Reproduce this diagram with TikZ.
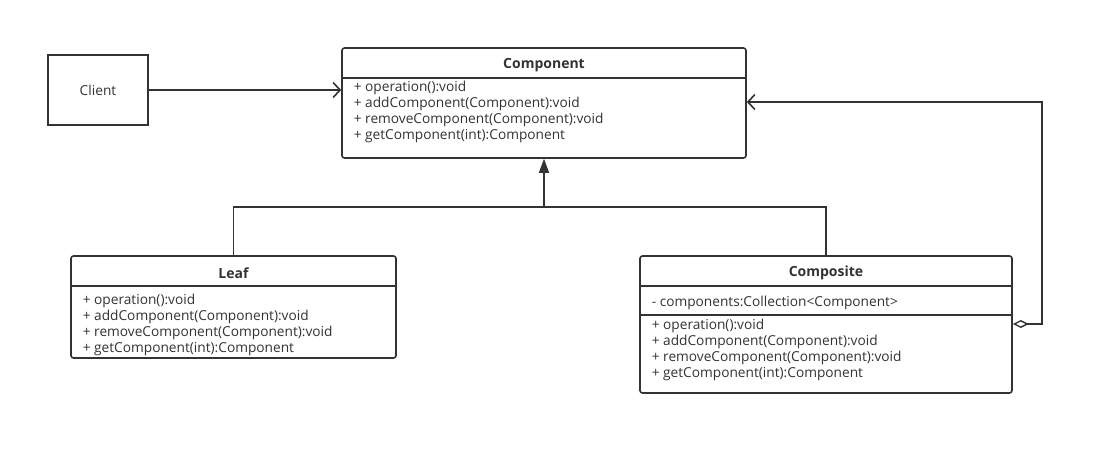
\documentclass[tikz,border=0pt]{standalone}
\usepackage{fontspec}
\setmainfont{Open Sans}
\usetikzlibrary{arrows.meta}
\definecolor{ink}{HTML}{333333}
\begin{document}
\begin{tikzpicture}[x=1pt,y=-1pt,
  line width=1.6pt, draw=ink, text=ink,
  classbox/.style={draw=ink, line width=1.6pt, rounded corners=2.5pt, inner sep=0pt, fill=white},
  plainbox/.style={draw=ink, line width=1.6pt, inner sep=0pt},
  member/.style={anchor=west, inner sep=0pt, yshift=-2pt, font=\fontsize{13.7}{15}\selectfont, text=ink},
  title/.style={inner sep=0pt, yshift=-2pt, font=\fontsize{14}{15}\selectfont\bfseries, text=ink},
  sep/.style={draw=ink, line width=1.6pt},
  conn/.style={draw=ink, line width=1.6pt},
  openarrow/.style={-{Straight Barb[length=7pt,width=15pt,line width=1.6pt]}},
]
\useasboundingbox[fill=white] (0,0) rectangle (1104,456);

% Client
\node[plainbox, minimum width=100pt, minimum height=70pt] (client) at (98,90) {};
\node[inner sep=0pt, font=\fontsize{13.7}{15}\selectfont] (clientlbl) at (98,90) {Client};

% Component
\node[classbox, minimum width=404pt, minimum height=110pt] (comp) at (544,103) {};
\node[title] (comptitle) at (544,63) {Component};
\draw[sep] (comp.west |- 0,78) -- (comp.east |- 0,78);
\node[member] (cm1) at (353,86) {+ operation():void};
\node[member] (cm2) at (353,102) {+ addComponent(Component):void};
\node[member] (cm3) at (353,118) {+ removeComponent(Component):void};
\node[member] (cm4) at (353,134) {+ getComponent(int):Component};

% Leaf
\node[classbox, minimum width=325pt, minimum height=102pt] (leaf) at (233.5,307) {};
\node[title] (leaftitle) at (233.5,271) {Leaf};
\draw[sep] (leaf.west |- 0,286) -- (leaf.east |- 0,286);
\node[member] (lm1) at (82,299) {+ operation():void};
\node[member] (lm2) at (82,315) {+ addComponent(Component):void};
\node[member] (lm3) at (82,331) {+ removeComponent(Component):void};
\node[member] (lm4) at (82,347) {+ getComponent(int):Component};

% Composite
\node[classbox, minimum width=372pt, minimum height=137pt] (compo) at (826,324.5) {};
\node[title] (compotitle) at (826,271) {Composite};
\draw[sep] (compo.west |- 0,286) -- (compo.east |- 0,286);
\node[member] (ca1) at (651,301) {- components:Collection<Component>};
\draw[sep] (compo.west |- 0,315) -- (compo.east |- 0,315);
\node[member] (xm1) at (651,324) {+ operation():void};
\node[member] (xm2) at (651,340) {+ addComponent(Component):void};
\node[member] (xm3) at (651,356) {+ removeComponent(Component):void};
\node[member] (xm4) at (651,372) {+ getComponent(int):Component};

% Client -> Component
\draw[conn, openarrow] (client.east) -- (client.east -| comp.west);

% Inheritance
\coordinate (junc) at (544,207);
\draw[conn] (leaf.north) |- (junc) -| (compo.north);
\draw[conn, -{Triangle[length=14pt,width=10pt]}] (junc) -- (comp.south);

% Aggregation
\coordinate (aggr) at (1042,213);
\coordinate (diamondend) at (1012,324);
\coordinate (arrowend) at (746,102);
\draw[conn, {Diamond[open,length=16pt,width=8pt,line width=1.4pt,fill=white]}-{Straight Barb[length=7pt,width=15pt,line width=1.6pt]}]
  (compo.east |- diamondend) -| (aggr) |- (comp.east |- arrowend);
\end{tikzpicture}
\end{document}
